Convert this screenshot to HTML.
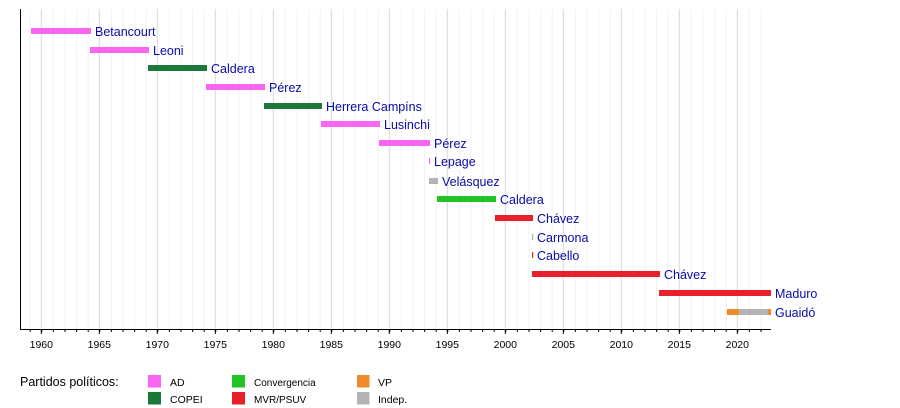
<!DOCTYPE html>
<html><head><meta charset="utf-8"><style>
html,body{margin:0;padding:0;background:#fff;}
svg{display:block;font-family:"Liberation Sans",sans-serif;}
.l{fill:#0a0aa8;font-size:12.5px;}
.t{fill:#000;font-size:10.5px;text-anchor:middle;}
.g{font-size:10.5px;fill:#000;}
</style></head><body>
<svg width="900" height="408" viewBox="0 0 900 408" xmlns="http://www.w3.org/2000/svg">
<defs>
<pattern id="mg" x="29.7" y="0" width="11.6" height="408" patternUnits="userSpaceOnUse">
<line x1="0.5" y1="0" x2="0.5" y2="408" stroke="#f2f2f2" stroke-width="1"/>
</pattern>
<pattern id="mt" x="29.7" y="0" width="11.6" height="408" patternUnits="userSpaceOnUse">
<line x1="0.5" y1="0" x2="0.5" y2="408" stroke="#000" stroke-width="1"/>
</pattern>
</defs>
<rect x="22" y="9" width="749" height="320" fill="url(#mg)"/>
<g stroke="#dcdcdc" stroke-width="1">
<line x1="41.3" y1="9" x2="41.3" y2="329"/><line x1="99.3" y1="9" x2="99.3" y2="329"/>
<line x1="157.3" y1="9" x2="157.3" y2="329"/><line x1="215.3" y1="9" x2="215.3" y2="329"/>
<line x1="273.3" y1="9" x2="273.3" y2="329"/><line x1="331.3" y1="9" x2="331.3" y2="329"/>
<line x1="389.3" y1="9" x2="389.3" y2="329"/><line x1="447.3" y1="9" x2="447.3" y2="329"/>
<line x1="505.3" y1="9" x2="505.3" y2="329"/><line x1="563.3" y1="9" x2="563.3" y2="329"/>
<line x1="621.3" y1="9" x2="621.3" y2="329"/><line x1="679.3" y1="9" x2="679.3" y2="329"/>
<line x1="737.3" y1="9" x2="737.3" y2="329"/>
</g>
<rect x="22" y="329" width="749" height="3" fill="url(#mt)"/>
<g stroke="#000" stroke-width="1">
<line x1="20.5" y1="9" x2="20.5" y2="329.5"/>
<line x1="20" y1="329.5" x2="771" y2="329.5"/>
<line x1="41.3" y1="329" x2="41.3" y2="334"/><line x1="99.3" y1="329" x2="99.3" y2="334"/>
<line x1="157.3" y1="329" x2="157.3" y2="334"/><line x1="215.3" y1="329" x2="215.3" y2="334"/>
<line x1="273.3" y1="329" x2="273.3" y2="334"/><line x1="331.3" y1="329" x2="331.3" y2="334"/>
<line x1="389.3" y1="329" x2="389.3" y2="334"/><line x1="447.3" y1="329" x2="447.3" y2="334"/>
<line x1="505.3" y1="329" x2="505.3" y2="334"/><line x1="563.3" y1="329" x2="563.3" y2="334"/>
<line x1="621.3" y1="329" x2="621.3" y2="334"/><line x1="679.3" y1="329" x2="679.3" y2="334"/>
<line x1="737.3" y1="329" x2="737.3" y2="334"/>
</g>
<g class="t">
<text x="41.3" y="348">1960</text><text x="99.3" y="348">1965</text><text x="157.3" y="348">1970</text>
<text x="215.3" y="348">1975</text><text x="273.3" y="348">1980</text><text x="331.3" y="348">1985</text>
<text x="389.3" y="348">1990</text><text x="447.3" y="348">1995</text><text x="505.3" y="348">2000</text>
<text x="563.3" y="348">2005</text><text x="621.3" y="348">2010</text><text x="679.3" y="348">2015</text>
<text x="737.3" y="348">2020</text>
</g>
<rect x="31" y="28" width="60" height="6" fill="#f866f2"/>
<rect x="90" y="47" width="59" height="6" fill="#f866f2"/>
<rect x="148" y="65" width="59" height="6" fill="#1a7838"/>
<rect x="206" y="84" width="59" height="6" fill="#f866f2"/>
<rect x="264" y="103" width="58" height="6" fill="#1a7838"/>
<rect x="321" y="121" width="59" height="6" fill="#f866f2"/>
<rect x="379" y="140" width="51" height="6" fill="#f866f2"/>
<rect x="429" y="158" width="1.2" height="6" fill="#f866f2"/>
<rect x="429" y="178" width="9" height="6" fill="#b4b4b4"/>
<rect x="437" y="196" width="59" height="6" fill="#22c322"/>
<rect x="495" y="215" width="38" height="6" fill="#e8202c"/>
<rect x="532" y="234" width="1.2" height="6" fill="#b4b4b4"/>
<rect x="532" y="252" width="1.2" height="6" fill="#e8202c"/>
<rect x="532" y="271" width="128" height="6" fill="#e8202c"/>
<rect x="659" y="290" width="112" height="6" fill="#e8202c"/>
<rect x="727" y="309" width="12" height="6" fill="#f08a2c"/>
<rect x="739" y="309" width="29" height="6" fill="#b4b4b4"/>
<rect x="768" y="309" width="3" height="6" fill="#f08a2c"/>
<g class="l">
<text x="95" y="36">Betancourt</text>
<text x="153" y="55">Leoni</text>
<text x="211" y="73">Caldera</text>
<text x="269" y="92">Pérez</text>
<text x="326" y="111">Herrera Campíns</text>
<text x="384" y="129">Lusinchi</text>
<text x="434" y="148">Pérez</text>
<text x="434" y="166">Lepage</text>
<text x="442" y="186">Velásquez</text>
<text x="500" y="204">Caldera</text>
<text x="537" y="223">Chávez</text>
<text x="537" y="242">Carmona</text>
<text x="537" y="260">Cabello</text>
<text x="664" y="279">Chávez</text>
<text x="775" y="298">Maduro</text>
<text x="775" y="317">Guaidó</text>
</g>
<text x="20" y="386" style="font-size:12.5px" fill="#000">Partidos políticos:</text>
<rect x="148" y="375" width="13" height="12.5" fill="#f866f2"/>
<rect x="148" y="392" width="13" height="12.5" fill="#1a7838"/>
<rect x="232" y="375" width="13" height="12.5" fill="#22c322"/>
<rect x="232" y="392" width="13" height="12.5" fill="#e8202c"/>
<rect x="357" y="375" width="12.5" height="12.5" fill="#f08a2c"/>
<rect x="357" y="392" width="12.5" height="12.5" fill="#b4b4b4"/>
<g class="g">
<text x="170" y="386">AD</text><text x="170" y="403">COPEI</text>
<text x="254" y="386" style="font-size:10px">Convergencia</text><text x="254" y="403" style="font-size:10px">MVR/PSUV</text>
<text x="378" y="386">VP</text><text x="378" y="403">Indep.</text>
</g>
</svg>
</body></html>
